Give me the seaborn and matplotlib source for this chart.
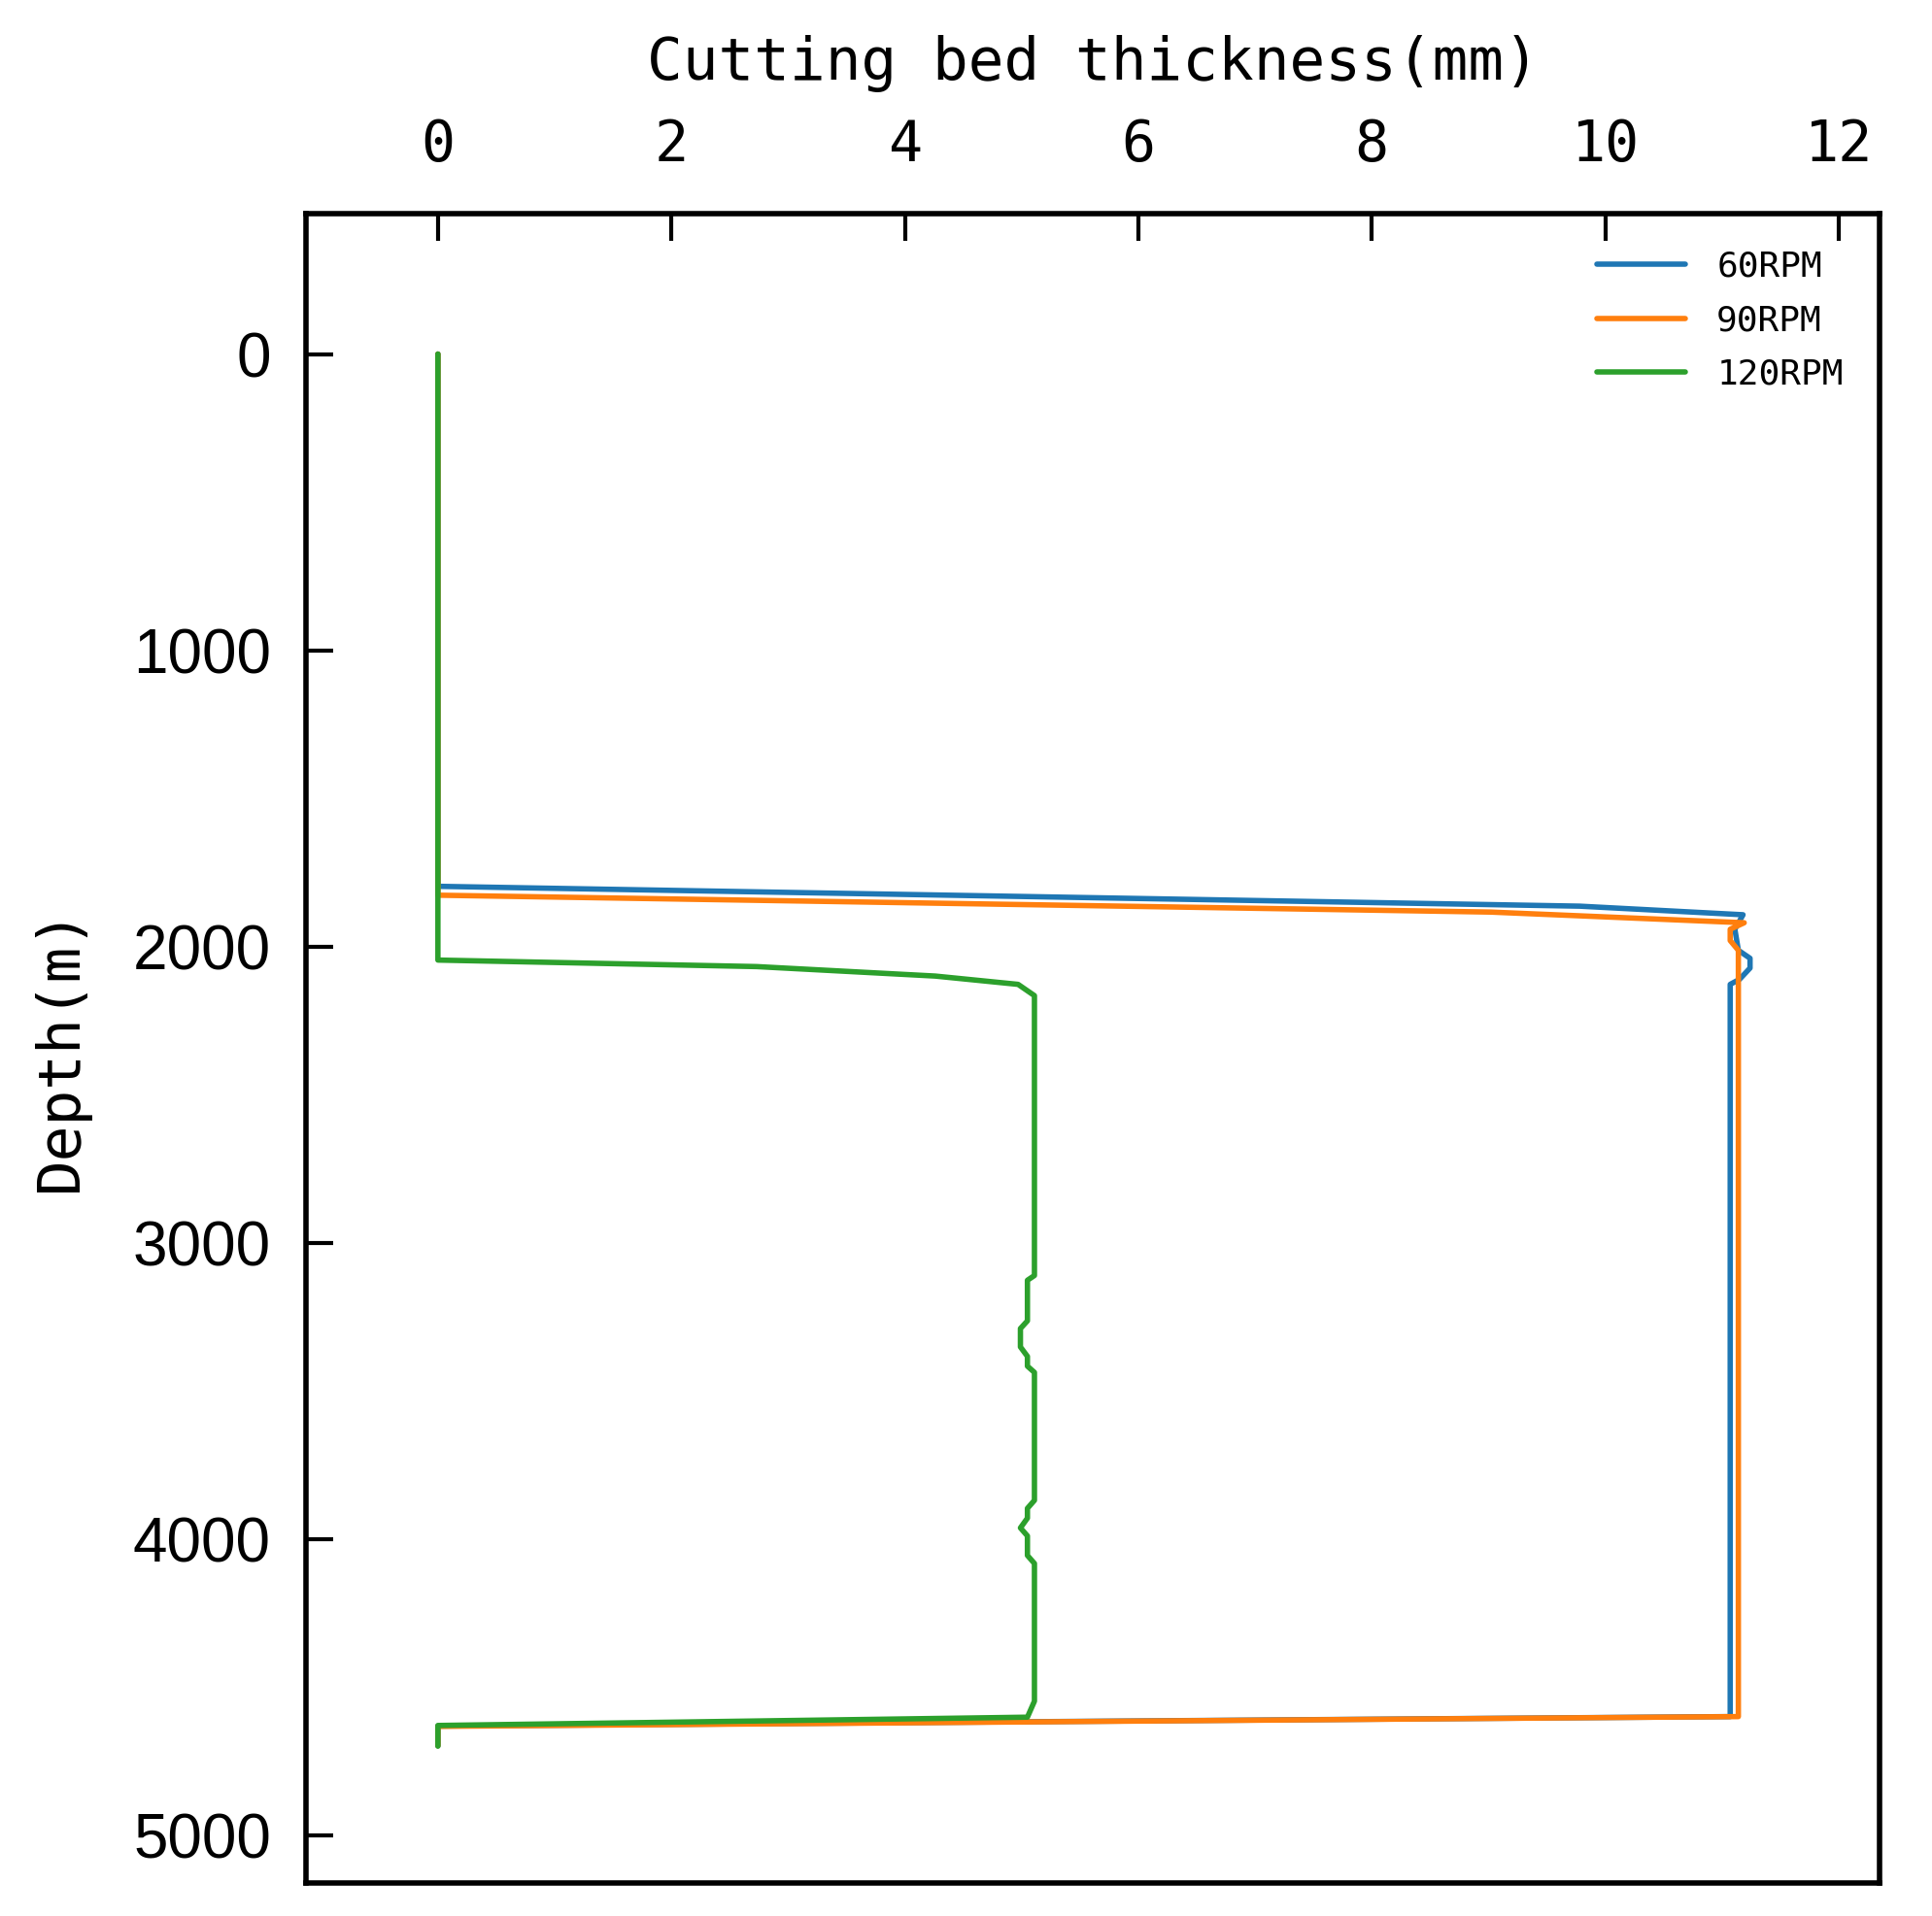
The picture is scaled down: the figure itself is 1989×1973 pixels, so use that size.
import numpy as np
import pandas as pd
import matplotlib
matplotlib.use("Agg")
import matplotlib.pyplot as plt
import seaborn as sns

# depth (m) and cutting bed thickness (mm)
depth_60 = [0, 1797, 1864, 1893, 1942, 2013, 2040, 2073, 2111, 2128, 4600, 4632, 4698]
thick_60 = [0, 0, 9.78, 11.18, 11.11, 11.14, 11.24, 11.24, 11.15, 11.07, 11.07, 0, 0]

depth_90 = [0, 1827, 1884, 1920, 1942, 1980, 2013, 4600, 4633, 4698]
thick_90 = [0, 0, 9.02, 11.19, 11.07, 11.07, 11.14, 11.14, 0, 0]

depth_120 = [0, 2046, 2068, 2100, 2128, 2166, 3111, 3127, 3264, 3290, 3352, 3384,
             3417, 3438, 3870, 3897, 3930, 3963, 3990, 4056, 4083, 4548, 4602, 4630, 4700]
thick_120 = [0, 0, 2.73, 4.26, 4.97, 5.11, 5.11, 5.05, 5.05, 4.99, 4.99, 5.05,
             5.05, 5.11, 5.11, 5.05, 5.05, 4.99, 5.05, 5.05, 5.11, 5.11, 5.05, 0, 0]

labels = ["60RPM", "90RPM", "120RPM"]
colors = ["#1f77b4", "#ff7f0e", "#2ca02c"]
x_ticks = [0, 2, 4, 6, 8, 10, 12]
y_ticks = [0, 1000, 2000, 3000, 4000, 5000]

frames = []
for lab, d, t in zip(labels, [depth_60, depth_90, depth_120], [thick_60, thick_90, thick_120]):
    frames.append(pd.DataFrame({"depth": d, "thickness": t, "series": lab}))
df = pd.concat(frames, ignore_index=True)

sns.set_theme(style="ticks")
plt.rcParams["font.family"] = ["DejaVu Sans Mono", "DejaVu Sans"]
plt.rcParams["text.color"] = "black"
plt.rcParams["axes.labelcolor"] = "black"
plt.rcParams["xtick.color"] = "black"
plt.rcParams["ytick.color"] = "black"

fig = plt.figure(figsize=(9.95, 9.865), dpi=200)
ax = fig.add_axes([0.1583, 0.0172, 0.8141, 0.8713])

sns.lineplot(data=df, x="thickness", y="depth", hue="series", palette=colors,
             sort=False, estimator=None, linewidth=2.0, ax=ax)

ax.set_xlim(-1.13, 12.35)
ax.set_ylim(5162, -474)
ax.set_xticks(x_ticks)
ax.set_yticks(y_ticks)

ax.xaxis.tick_top()
ax.xaxis.set_label_position("top")
ax.tick_params(axis="x", direction="in", length=10, width=1.5, pad=15, top=True, bottom=False)
ax.tick_params(axis="y", direction="in", length=10, width=1.5, pad=13, left=True, right=False)
for lbl in ax.get_xticklabels():
    lbl.set_fontfamily("DejaVu Sans Mono")
    lbl.set_fontsize(21)
for lbl in ax.get_yticklabels():
    lbl.set_fontfamily("Liberation Sans")
    lbl.set_fontsize(23)

for sp in ax.spines.values():
    sp.set_linewidth(2.0)
    sp.set_color("black")

ax.set_xlabel("Cutting bed thickness(mm)", fontsize=22, labelpad=14)
ax.set_ylabel("Depth(m)", fontsize=22, labelpad=16)

handles, _ = ax.get_legend_handles_labels()
ax.legend(handles, labels, loc="upper right", frameon=False, fontsize=13,
          handlelength=2.5, handletextpad=0.9, labelspacing=0.6,
          bbox_to_anchor=(0.997, 0.997))

fig.savefig("out.png", dpi=200)
